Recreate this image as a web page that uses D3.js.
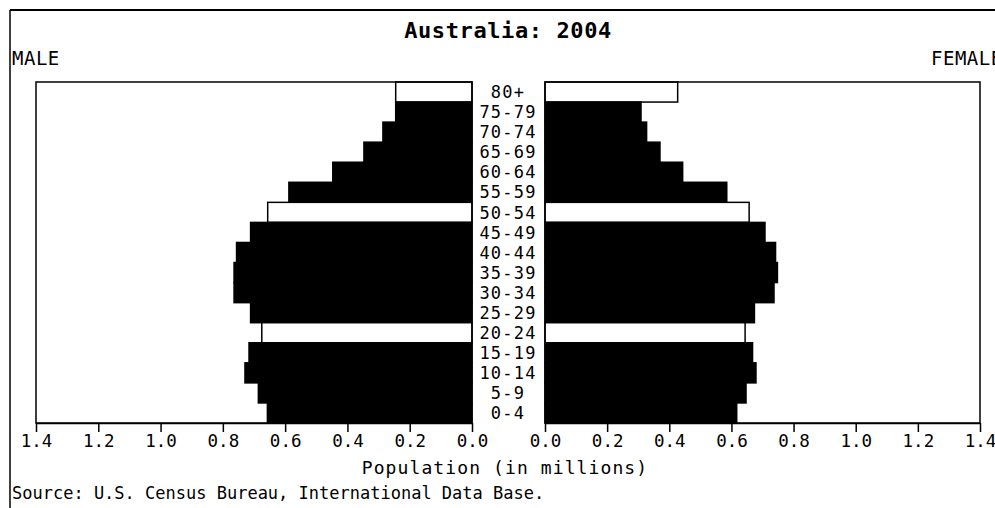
<!DOCTYPE html>
<html>
<head>
<meta charset="utf-8">
<script src="https://cdn.jsdelivr.net/npm/d3@7"></script>
<style>
  body { margin: 0; background: #fff; }
  text { font-family: "DejaVu Sans Mono", "Liberation Mono", monospace; fill: #000; }
</style>
</head>
<body>
<div class="chart"></div>
<script>
// age groups, top to bottom
var ages = ["80+", "75-79", "70-74", "65-69", "60-64", "55-59", "50-54", "45-49",
            "40-44", "35-39", "30-34", "25-29", "20-24", "15-19", "10-14", "5-9", "0-4"];

// population in millions
var male = [0.245, 0.245, 0.286, 0.347, 0.447, 0.588, 0.656, 0.711,
            0.756, 0.764, 0.764, 0.711, 0.675, 0.716, 0.729, 0.686, 0.657];
var female = [0.427, 0.309, 0.327, 0.370, 0.443, 0.585, 0.657, 0.708,
              0.742, 0.748, 0.737, 0.674, 0.644, 0.668, 0.679, 0.647, 0.617];

// highlighted (open) bars
var openBars = ["80+", "50-54", "20-24"];

var ticks = [0, 0.2, 0.4, 0.6, 0.8, 1.0, 1.2, 1.4];

var width = 995, height = 508;
var top_ = 82, bottom = 423;

var svg = d3.select(".chart").append("svg")
	.attr("width", width)
	.attr("height", height);

// outer frame (top and left edges)
svg.append("line").attr("x1", 10).attr("y1", 10).attr("x2", width).attr("y2", 10)
	.attr("stroke", "#000").attr("stroke-width", 2);
svg.append("line").attr("x1", 10).attr("y1", 10).attr("x2", 10).attr("y2", height)
	.attr("stroke", "#000").attr("stroke-width", 1.5);

svg.append("text")
	.attr("x", 508).attr("y", 38)
	.attr("text-anchor", "middle")
	.attr("font-size", 22)
	.attr("font-weight", "bold")
	.attr("letter-spacing", 0.6)
	.text("Australia: 2004");

svg.append("text").attr("x", 12).attr("y", 65)
	.attr("font-size", 19).attr("letter-spacing", 0.5).text("MALE");
svg.append("text").attr("x", 931).attr("y", 65)
	.attr("font-size", 19).attr("letter-spacing", 0.5).text("FEMALE");

var y = d3.scaleBand()
	.domain(ages)
	.range([top_, bottom])
	.padding(0);

var xLeft = d3.scaleLinear().domain([0, 1.4]).range([472, 36]);
var xRight = d3.scaleLinear().domain([0, 1.4]).range([545, 980]);

function drawPanel(xs, values) {
	var g = svg.append("g");

	g.selectAll("rect.bar")
		.data(ages)
		.enter().append("rect")
		.attr("class", "bar")
		.attr("x", function(d, i) { return Math.min(xs(0), xs(values[i])); })
		.attr("width", function(d, i) { return Math.abs(xs(values[i]) - xs(0)); })
		.attr("y", function(d) { return y(d); })
		.attr("height", y.bandwidth())
		.attr("fill", function(d) { return openBars.indexOf(d) > -1 ? "#fff" : "#000"; })
		.attr("stroke", "#000")
		.attr("stroke-width", 1.5);

	// panel box
	var x0 = Math.min(xs.range()[0], xs.range()[1]);
	var x1 = Math.max(xs.range()[0], xs.range()[1]);
	g.append("rect")
		.attr("x", x0).attr("y", top_)
		.attr("width", x1 - x0).attr("height", bottom - top_)
		.attr("fill", "none")
		.attr("stroke", "#000")
		.attr("stroke-width", 1.5);

	var axis = d3.axisBottom(xs)
		.tickValues(ticks)
		.tickFormat(d3.format(".1f"))
		.tickSize(9)
		.tickSizeOuter(0)
		.tickPadding(3);

	var ax = g.append("g")
		.attr("transform", "translate(0," + bottom + ")")
		.call(axis);
	ax.select(".domain").attr("stroke-width", 1.5);
	ax.selectAll(".tick line").attr("stroke-width", 1.5);
	ax.selectAll(".tick text")
		.attr("font-size", 17.5)
		.attr("font-family", "DejaVu Sans Mono, monospace");
}

drawPanel(xLeft, male);
drawPanel(xRight, female);

// age labels
svg.append("g").selectAll("text")
	.data(ages)
	.enter().append("text")
	.attr("x", 508)
	.attr("y", function(d) { return y(d) + y.bandwidth() / 2; })
	.attr("dy", "0.36em")
	.attr("text-anchor", "middle")
	.attr("font-size", 17)
	.attr("letter-spacing", 1.2)
	.text(function(d) { return d; });

svg.append("text")
	.attr("x", 505).attr("y", 474)
	.attr("text-anchor", "middle")
	.attr("font-size", 18)
	.attr("letter-spacing", 1.1)
	.text("Population (in millions)");

svg.append("text")
	.attr("x", 12).attr("y", 499)
	.attr("font-size", 17)
	.text("Source: U.S. Census Bureau, International Data Base.");
</script>
</body>
</html>
